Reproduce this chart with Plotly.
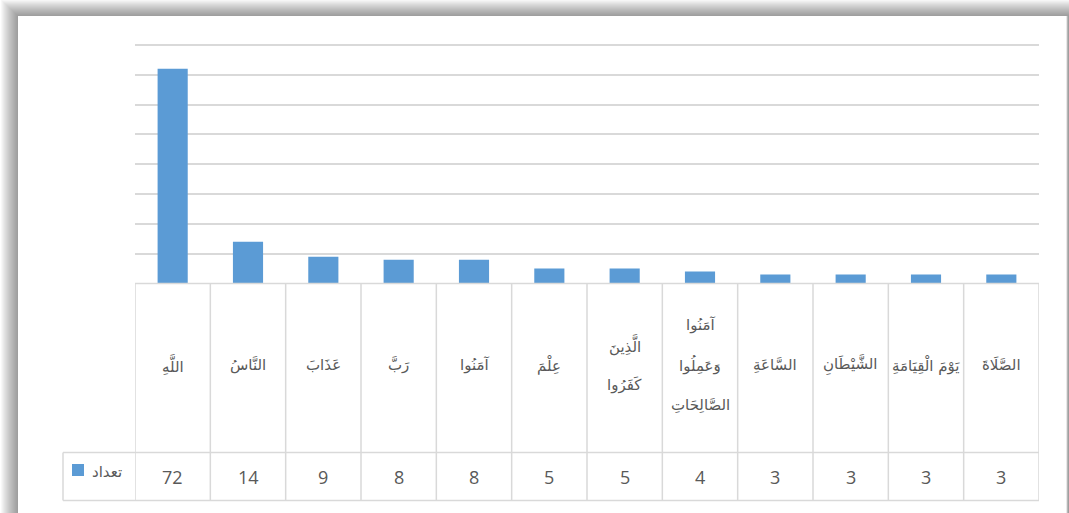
import plotly.graph_objects as go

# ---- data ----
categories = ["اللَّهِ", "النَّاسُ", "عَذَابَ", "رَبَّ", "آمَنُوا", "عِلْمَ",
              "الَّذِينَ كَفَرُوا", "آمَنُوا وَعَمِلُوا الصَّالِحَاتِ", "السَّاعَةِ",
              "الشَّيْطَانِ", "يَوْمَ الْقِيَامَةِ", "الصَّلَاةَ"]
# how each category label wraps inside its table cell
category_lines = [["اللَّهِ"], ["النَّاسُ"], ["عَذَابَ"], ["رَبَّ"], ["آمَنُوا"], ["عِلْمَ"],
                  ["الَّذِينَ", "كَفَرُوا"], ["آمَنُوا", "وَعَمِلُوا", "الصَّالِحَاتِ"],
                  ["السَّاعَةِ"], ["الشَّيْطَانِ"], ["يَوْمَ الْقِيَامَةِ"], ["الصَّلَاةَ"]]
values = [72, 14, 9, 8, 8, 5, 5, 4, 3, 3, 3, 3]
series_name = "تعداد"
y_max = 80
y_step = 10

W, H = 1069, 513
BLUE = "#5B9BD5"
GRID = "#D9D9D9"
TXT = "#595959"


def px(x):
    return x / W


def py(y):
    return 1 - y / H


plot_left, plot_right = 135, 1039
plot_top, plot_bottom = 45, 283.5
cat_row_bottom = 452.5
table_bottom = 500.5
legend_left = 63
n = len(categories)
y_top = y_max + 3

fig = go.Figure()
fig.add_trace(go.Bar(x=list(range(n)), y=values, marker=dict(color=BLUE, line=dict(width=0)),
                     width=0.4, name=series_name, showlegend=False, hoverinfo="skip"))

shapes = []
# outer (blurred) shadow of the chart area, towards top-left
for k in range(17, 0, -1):
    shapes.append(dict(type="rect", xref="paper", yref="paper", layer="below",
                       x0=px(18 - k), x1=px(1069), y0=py(530), y1=py(16 - k * 0.95),
                       fillcolor="rgba(60,60,60,0.035)", line=dict(width=0)))
shapes.append(dict(type="rect", xref="paper", yref="paper", layer="below",
                   x0=px(18), x1=px(1067), y0=py(530), y1=py(16),
                   fillcolor="white", line=dict(width=0)))
shapes.append(dict(type="line", xref="paper", yref="paper", layer="below",
                   x0=px(1067), x1=px(1067), y0=py(530), y1=py(16),
                   line=dict(color="#D0D0D0", width=1)))

line_style = dict(color=GRID, width=1.5)
# table horizontal lines
shapes.append(dict(type="line", xref="x", yref="paper", x0=-0.5, x1=n - 0.5,
                   y0=py(plot_bottom), y1=py(plot_bottom), line=line_style))
for yy in (cat_row_bottom, table_bottom):
    shapes.append(dict(type="line", xref="paper", yref="paper", x0=px(legend_left), x1=px(plot_right),
                       y0=py(yy), y1=py(yy), line=line_style))
shapes.append(dict(type="line", xref="paper", yref="paper", x0=px(legend_left), x1=px(legend_left),
                   y0=py(cat_row_bottom), y1=py(table_bottom), line=line_style))
for i in range(n + 1):
    shapes.append(dict(type="line", xref="x", yref="paper", x0=i - 0.5, x1=i - 0.5,
                       y0=py(plot_bottom), y1=py(table_bottom), line=line_style))
# legend key
shapes.append(dict(type="rect", xref="paper", yref="paper", x0=px(72), x1=px(84),
                   y0=py(476), y1=py(464), fillcolor=BLUE, line=dict(width=0)))

annotations = []
cat_mid = 365
line_gap = 40
for i, lines in enumerate(category_lines):
    k = len(lines)
    for j, t in enumerate(lines):
        yy = cat_mid + (j - (k - 1) / 2) * line_gap
        annotations.append(dict(x=i, xref="x", y=py(yy), yref="paper", text=t, showarrow=False,
                                xanchor="center", yanchor="middle",
                                font=dict(family="DejaVu Sans", size=15, color=TXT)))
for i, v in enumerate(values):
    annotations.append(dict(x=i, xref="x", y=py(477), yref="paper", text=str(v), showarrow=False,
                            xanchor="center", yanchor="middle",
                            font=dict(family="Open Sans", size=18, color=TXT)))
annotations.append(dict(x=px(90), xref="paper", y=py(472), yref="paper", text=series_name,
                        showarrow=False, xanchor="left", yanchor="middle",
                        font=dict(family="DejaVu Sans", size=15, color=TXT)))

fig.update_layout(
    width=W, height=H,
    margin=dict(l=0, r=0, t=0, b=0),
    paper_bgcolor="white", plot_bgcolor="rgba(0,0,0,0)",
    xaxis=dict(domain=[px(plot_left), px(plot_right)], range=[-0.5, n - 0.5],
               showticklabels=False, showgrid=False, zeroline=False, showline=False, ticks=""),
    yaxis=dict(domain=[py(plot_bottom), py(plot_bottom - (plot_bottom - plot_top) * y_top / y_max)],
               range=[0, y_top], dtick=y_step, tick0=0,
               showticklabels=False, showgrid=True, gridcolor=GRID, gridwidth=1.5,
               zeroline=False, showline=False, ticks=""),
    shapes=shapes, annotations=annotations, bargap=0.6, showlegend=False,
)
fig.write_html("out.html", config={"displayModeBar": False},
               post_script="document.body.style.margin='0';document.body.style.overflow='hidden';")
